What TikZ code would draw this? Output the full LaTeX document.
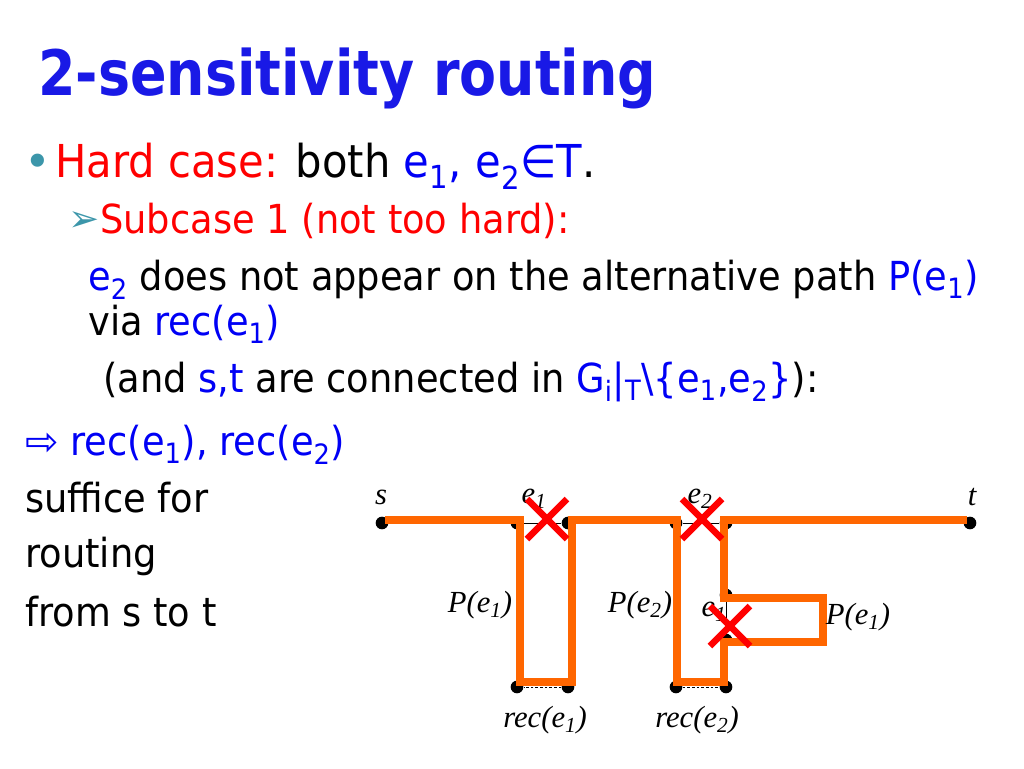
\documentclass[tikz,border=0pt]{standalone}
\usepackage{fontspec}
\setmainfont{DejaVu Sans}[FakeStretch=0.92]
\newfontfamily\titlefont{DejaVu Sans}[FakeStretch=0.86]
\newfontfamily\lblfont{Liberation Serif}
\newfontfamily\symfont{DejaVu Sans}
\usetikzlibrary{calc,shapes.misc}

\definecolor{titleblue}{RGB}{25,25,230}
\definecolor{txtblue}{RGB}{0,0,245}
\definecolor{txtred}{RGB}{255,0,0}
\definecolor{bullteal}{RGB}{60,150,170}
\definecolor{routeorange}{RGB}{255,102,0}

\newcommand{\sbs}[1]{\textsubscript{#1}}
\newcommand{\bl}[1]{\textcolor{txtblue}{#1}}
\newcommand{\levelone}{\fontsize{34}{40}\selectfont}
\newcommand{\leveltwo}{\fontsize{30}{36}\selectfont}

\tikzset{
  txt/.style={anchor=base west, inner sep=0pt},
  dot/.style={circle, fill=black, inner sep=0pt, minimum size=9.5pt},
  treeedge/.style={line width=0.6pt},
  recedge/.style={line width=0.6pt, dash pattern=on 2pt off 1.5pt},
  route/.style={draw=routeorange, line width=5.8pt},
  cut/.style={cross out, draw=red, line width=5pt, minimum size=25pt, inner sep=0pt},
  lbl/.style={inner sep=0pt, font=\lblfont\itshape\fontsize{23}{25}\selectfont}
}

\begin{document}
\begin{tikzpicture}[x=0.75pt, y=-0.75pt]
\useasboundingbox (0,0) rectangle (1024,768);

% slide text
\node[txt, text=titleblue, font=\titlefont\bfseries\fontsize{47}{50}\selectfont] (title) at (38,95) {2-sensitivity routing};
\node[txt, text=bullteal, font=\symfont\levelone] (bul) at (24,177) {•};
\node[txt, font=\levelone] (hard) at (55,177) {\textcolor{txtred}{Hard case:} both \bl{e\sbs{1}, e\sbs{2}∈T}.};
\node[txt, text=bullteal, font=\symfont\fontsize{28}{30}\selectfont] (arr) at (68,231) {➢};
\node[txt, text=txtred, font=\leveltwo] (sub) at (100,233) {Subcase 1 (not too hard):};
\node[txt, font=\leveltwo] (lineA) at (88,290) {\bl{e\sbs{2}} does not appear on the alternative path \bl{P(e\sbs{1})}};
\node[txt, font=\leveltwo] (lineB) at (88,335) {via \bl{rec(e\sbs{1})}};
\node[txt, font=\leveltwo] (lineC) at (103,392) {(and \bl{s,t} are connected in \bl{G\sbs{i}|\sbs{T}\textbackslash\{e\sbs{1},e\sbs{2}\}}):};
\node[txt, font=\leveltwo] (lineD) at (25,455) {\bl{{\symfont ⇨} rec(e\sbs{1}), rec(e\sbs{2})}};
\node[txt, font=\leveltwo] (lineE) at (25,512) {suffice for};
\node[txt, font=\leveltwo] (lineF) at (25,567) {routing};
\node[txt, font=\leveltwo] (lineG) at (25,626) {from s to t};

% graph nodes
\node[dot] (s) at (382,523) {};
\node[dot] (t) at (970,523) {};
\node[dot] (a1) at (517,523) {};
\node[dot] (b1) at (568,523) {};
\node[dot] (a1d) at (517,687) {};
\node[dot] (b1d) at (568,687) {};
\node[dot] (a2) at (676,523) {};
\node[dot] (b2) at (726,523) {};
\node[dot] (a2d) at (676,687) {};
\node[dot] (b2d) at (726,687) {};
\node[dot] (c1) at (726,595) {};
\node[dot] (c2) at (726,640) {};
\coordinate (d1) at (819,602);
\coordinate (d2) at (819,637);

% tree edges and recovery edges
\draw[treeedge] (s) -- (a1) -- (b1) -- (a2) -- (b2) -- (t);
\draw[treeedge] (a1) -- (a1d);
\draw[treeedge] (a2) -- (a2d);
\draw[treeedge] (b2) -- (c1) -- (c2) -- (b2d);
\draw[recedge] (b1) -- (b1d) -- (a1d);
\draw[recedge] (a2d) -- (b2d);
\draw[recedge] (d1) -- (d2);

% rerouted path
\draw[route] ($(s)+(3,-3)$) -- ($(a1)+(3,-3)$) -- ($(a1d)+(3,-5)$) -- ($(b1d)+(4,-5)$)
  -- ($(b1)+(4,-3)$) -- ($(a2)+(1,-3)$) -- ($(a2d)+(1,-5)$) -- ($(b2d)+(-2,-5)$)
  -- ($(c2)+(-2,2)$) -- ($(d2)+(4,5)$) -- ($(d1)+(4,-4)$) -- ($(c1)+(-2,3)$)
  -- ($(b2)+(-2,-3)$) -- ($(t)+(-3,-3)$);

% labels
\node[lbl] (ls) at (381,497) {s};
\node[lbl] (lt) at (972,497) {t};
\node[lbl] (le1) at (534,499) {e\sbs{1}};
\node[lbl] (le2) at (700,499) {e\sbs{2}};
\node[lbl] (lp1) at (480,605) {P(e\sbs{1})};
\node[lbl] (lp2) at (640,605) {P(e\sbs{2})};
\node[lbl] (le1b) at (714,612) {e\sbs{1}};
\node[lbl] (lp3) at (858,617) {P(e\sbs{1})};
\node[lbl] (lr1) at (545,720) {rec(e\sbs{1})};
\node[lbl] (lr2) at (697,720) {rec(e\sbs{2})};

% failed edges
\node[cut] (x1) at (547,519) {};
\node[cut] (x2) at (702,519) {};
\node[cut] (x3) at (730,626) {};
\end{tikzpicture}
\end{document}
